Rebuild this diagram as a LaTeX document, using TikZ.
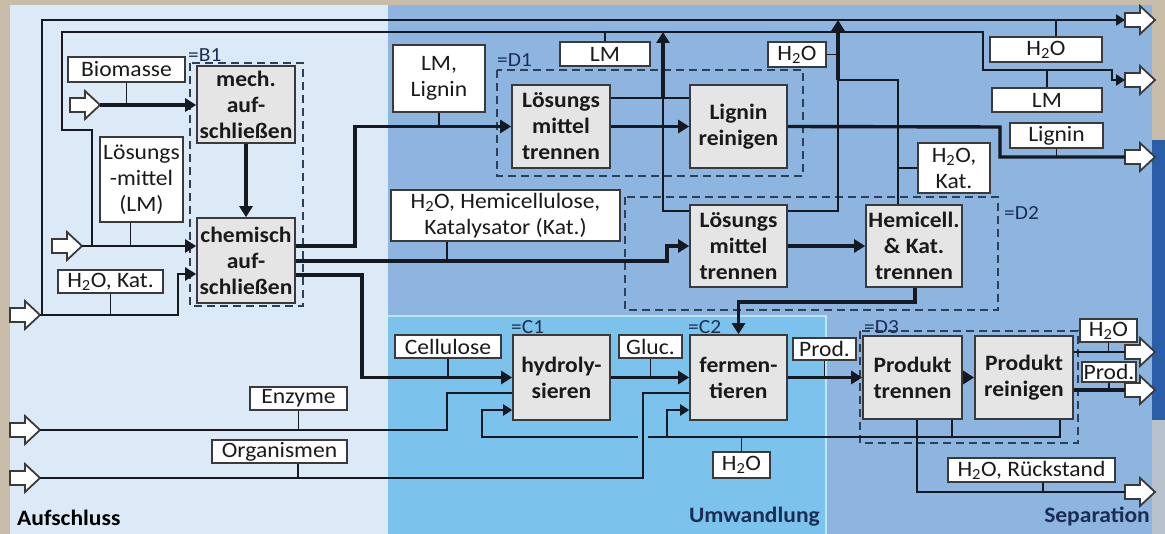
\documentclass[tikz,border=0pt]{standalone}
\usepackage{fontspec}
\setmainfont{Carlito}[FakeStretch=1.07]
\usetikzlibrary{arrows.meta,calc}
\definecolor{leftbg}{HTML}{DCE9F6}
\definecolor{midbg}{HTML}{8DB5E0}
\definecolor{convbg}{HTML}{7BC3EC}
\definecolor{convedge}{HTML}{BDE5F8}
\definecolor{framebg}{HTML}{C9BCA9}
\definecolor{procfill}{HTML}{E5E5E5}
\definecolor{boxline}{HTML}{3A3A3A}
\definecolor{flow}{HTML}{141922}
\definecolor{txt}{HTML}{1A1A1A}
\definecolor{grpline}{HTML}{2E4057}
\definecolor{navy}{HTML}{1B2D55}
\definecolor{darkstrip}{HTML}{2A5EA8}
\definecolor{graystrip}{HTML}{B8C2CC}
\newcommand\HtwoO{H\textsubscript{2}O}
\tikzset{
  proc/.style={draw=boxline, fill=procfill, line width=1.6pt, font=\fontsize{22}{26}\selectfont\bfseries, align=center, inner sep=0pt, text=txt},
  lbl/.style={draw=boxline, fill=white, line width=1.5pt, font=\fontsize{22}{26}\selectfont, align=center, inner sep=0pt, text=txt},
  mainflow/.style={line width=3.4pt, draw=flow},
  sideflow/.style={line width=2.2pt, draw=flow},
  tickline/.style={line width=1.2pt, draw=flow},
  bigtip/.style={-{Triangle[length=11pt,width=13pt]}},
  smalltip/.style={-{Triangle[length=9pt,width=11pt]}},
  grp/.style={draw=grpline, line width=1.5pt, dash pattern=on 8pt off 5pt},
  grplabel/.style={font=\fontsize{20}{24}\selectfont, text=navy, inner sep=0pt, anchor=south west},
  regionlabel/.style={font=\fontsize{22}{26}\selectfont\bfseries, inner sep=0pt},
  hollow/.pic={\draw[fill=white, draw=boxline, line width=1.8pt, line join=miter]
     (0,-7) -- (15,-7) -- (15,-14) -- (30,0) -- (15,14) -- (15,7) -- (0,7) -- cycle;}
}
\begin{document}
\begin{tikzpicture}[x=1pt,y=-1pt]
\useasboundingbox (0,0) rectangle (1165,534);
% backgrounds
\fill[framebg] (0,0) rectangle (1165,534);
\fill[leftbg] (10,5) rectangle (388,534);
\fill[midbg] (388,5) rectangle (1152,534);
\fill[darkstrip] (1152,140) rectangle (1165,420);
\fill[graystrip] (1152,420) rectangle (1165,534);
\fill[convbg] (388,316) rectangle (826,534);
\draw[convedge, line width=2pt] (388,316) -- (826,316) -- (826,534);

% group frames
\draw[grp] (190,63) rectangle (303,306);
\draw[grp] (497,70) rectangle (803,176);
\draw[grp] (625,197) rectangle (998,310);
\draw[grp] (860,331) rectangle (1078,443);
\node[grplabel] (gB1) at (188,62) {=B1};
\node[grplabel] (gD1) at (497,67) {=D1};
\node[grplabel] (gD2) at (1004,220) {=D2};
\node[grplabel] (gC1) at (511,334) {=C1};
\node[grplabel] (gC2) at (688,334) {=C2};
\node[grplabel] (gD3) at (864,334) {=D3};

% region labels
\node[regionlabel, anchor=south west, text=black] (rA) at (17,526) {Aufschluss};
\node[regionlabel, anchor=south east, text=navy] (rU) at (820,526) {Umwandlung};
\node[regionlabel, anchor=south east, text=navy] (rS) at (1150,526) {Separation};

% process boxes
\node[proc, minimum width=98pt, minimum height=77pt] (mech) at (246,104.5) {mech.\\auf-\\schließen};
\node[proc, minimum width=98pt, minimum height=85pt] (chem) at (246,260.5) {chemisch\\auf-\\schließen};
\node[proc, minimum width=98pt, minimum height=83pt] (lmt1) at (561,126.5) {Lösungs\\mittel\\trennen};
\node[proc, minimum width=97pt, minimum height=83pt] (lig) at (738.5,126.5) {Lignin\\reinigen};
\node[proc, minimum width=97pt, minimum height=82pt] (lmt2) at (738.5,246) {Lösungs\\mittel\\trennen};
\node[proc, minimum width=96pt, minimum height=82pt] (hemi) at (914,246) {Hemicell.\\\& Kat.\\trennen};
\node[proc, minimum width=97pt, minimum height=85pt] (hydro) at (561.5,377.5) {hydroly-\\sieren};
\node[proc, minimum width=97pt, minimum height=85pt] (ferm) at (738.5,377.5) {fermen-\\tieren};
\node[proc, minimum width=99pt, minimum height=83pt] (pt) at (912.5,377.5) {Produkt\\trennen};
\node[proc, minimum width=98pt, minimum height=83pt] (pr) at (1024,377.5) {Produkt\\reinigen};

% label boxes
\node[lbl, minimum width=117pt, minimum height=25pt] (biomasse) at (126.5,69.5) {Biomasse};
\node[lbl, minimum width=83pt, minimum height=85pt] (lmin) at (141.5,179.5) {Lösungs\\-mittel\\(LM)};
\node[lbl, minimum width=105pt, minimum height=23pt] (h2okat) at (110.5,281.5) {\HtwoO, Kat.};
\node[lbl, minimum width=97pt, minimum height=23pt] (enz) at (298.5,398.5) {Enzyme};
\node[lbl, minimum width=135pt, minimum height=23pt] (org) at (279.5,451.5) {Organismen};
\node[lbl, minimum width=92pt, minimum height=67pt] (lmlig) at (439,78.5) {LM,\\Lignin};
\node[lbl, minimum width=90pt, minimum height=24pt] (lmtop) at (605,54) {LM};
\node[lbl, minimum width=58pt, minimum height=25pt] (h2omid) at (797,54.5) {\HtwoO};
\node[lbl, minimum width=229pt, minimum height=51pt] (h2ohemi) at (505.5,215.5) {\HtwoO, Hemicellulose,\\Katalysator (Kat.)};
\node[lbl, minimum width=106pt, minimum height=23pt] (cell) at (448,346.5) {Cellulose};
\node[lbl, minimum width=63pt, minimum height=23pt] (gluc) at (650.5,346.5) {Gluc.};
\node[lbl, minimum width=63pt, minimum height=22pt] (prod1) at (824.5,349) {Prod.};
\node[lbl, minimum width=57pt, minimum height=26pt] (h2oferm) at (741.5,465) {\HtwoO};
\node[lbl, minimum width=112pt, minimum height=25pt] (h2otop) at (1046,49.5) {\HtwoO};
\node[lbl, minimum width=110pt, minimum height=24pt] (lmr) at (1047,100) {LM};
\node[lbl, minimum width=93pt, minimum height=25pt] (ligr) at (1056.5,135.5) {Lignin};
\node[lbl, minimum width=72pt, minimum height=50pt] (h2okat2) at (954,168) {\HtwoO,\\Kat.};
\node[lbl, minimum width=57pt, minimum height=23pt] (h2opr) at (1108.5,330.5) {\HtwoO};
\node[lbl, minimum width=54pt, minimum height=20pt] (prodpr) at (1109,372) {Prod.};
\node[lbl, minimum width=167pt, minimum height=24pt] (rueck) at (1031.5,470) {\HtwoO, Rückstand};

% input / output block arrows
\pic at (70,105) {hollow};
\pic at (52,246) {hollow};
\pic at (10,315) {hollow};
\pic at (10,430) {hollow};
\pic at (10,478) {hollow};
\pic at (1125,20) {hollow};
\pic at (1125,80) {hollow};
\pic at (1125,157) {hollow};
\pic at (1125,352) {hollow};
\pic at (1125,390) {hollow};
\pic at (1125,492) {hollow};

\coordinate (iBio) at (100,105);
\coordinate (iLM) at (82,246);
\coordinate (iH2O) at (40,315);
\coordinate (iEnz) at (40,430);
\coordinate (iOrg) at (40,478);
\coordinate (oH2O) at (1125,20);
\coordinate (oLM) at (1125,80);
\coordinate (oLig) at (1125,157);
\coordinate (oH2Ob) at (1125,352);
\coordinate (oProd) at (1125,390);
\coordinate (oRes) at (1125,492);

% Biomasse
\draw[mainflow,bigtip] (iBio) -- (mech.west |- iBio);
\draw[tickline] (biomasse.south) -- (biomasse.south |- iBio);
% LM input and LM line
\draw[sideflow,bigtip] (iLM) -- (chem.west |- iLM);
\draw[tickline] ([xshift=-11pt]lmin.south) -- ([xshift=-11pt]lmin.south |- iLM);
\coordinate (jLM) at (92,246);
\coordinate (lmA) at (62,130);
\coordinate (lmB) at (983,32);
\coordinate (lmC) at (1112,70);
\draw[sideflow,smalltip] (jLM) |- (lmA) |- (lmB) |- (lmC) |- (oLM);
\draw[tickline] (lmr.north) -- (lmr.north |- lmC);
% H2O, Kat. input and H2O line
\coordinate (hk) at (178,274);
\draw[sideflow,bigtip] (iH2O) -| (hk) -- (hk -| chem.west);
\coordinate (jH2O) at (42,315);
\draw[sideflow,smalltip] (jH2O) |- (oH2O);
\draw[tickline] (h2okat.south) -- (h2okat.south |- iH2O);
\draw[tickline] ([xshift=10pt]h2otop.north) -- ([xshift=10pt]h2otop.north |- oH2O);
% Enzyme
\coordinate (eB) at (447,393);
\draw[sideflow] (iEnz) -| (eB) -- (eB -| hydro.west);
\draw[tickline] (enz.south) -- (enz.south |- iEnz);
% Organismen
\coordinate (oB) at (643,393);
\draw[sideflow] (iOrg) -| (oB) -- (oB -| ferm.west);
\draw[tickline] ([xshift=18.5pt]org.south) -- ([xshift=18.5pt]org.south |- iOrg);
% mech -> chem
\draw[mainflow,bigtip] (mech) -- (chem);
% chem outputs
\coordinate (c1) at (355,246);
\coordinate (c2) at (667,261);
\coordinate (c3) at (362,275);
\draw[mainflow,bigtip] (c1 -| chem.east) -- (c1) |- (lmt1.west);
\draw[mainflow,bigtip] (c2 -| chem.east) -- (c2) |- (lmt2.west);
\draw[mainflow,bigtip] (c3 -| chem.east) -- (c3) |- (hydro.west);
\draw[tickline] (lmlig.south) -- (lmlig.south |- lmt1.west);
\draw[tickline] ([xshift=-58.5pt]h2ohemi.south) -- ([xshift=-58.5pt]h2ohemi.south |- c2);
\draw[tickline] (cell.south) -- (cell.south |- hydro.west);
% main chain
\draw[mainflow,bigtip] (lmt1) -- (lig);
\draw[mainflow,bigtip] (lmt2) -- (hemi);
\draw[mainflow,bigtip] (hydro) -- (ferm);
\draw[mainflow,bigtip] (ferm) -- (pt);
\draw[mainflow,bigtip] (pt) -- (pr);
\draw[tickline] (gluc.south) -- (gluc.south |- hydro.east);
\draw[tickline] (prod1.south) -- (prod1.south |- ferm.east);
% LM recovery from separation
\coordinate (v1) at (663,98);
\coordinate (v1b) at (663,211);
\coordinate (v1t) at (663,32);
\draw[sideflow] (v1 -| lmt1.east) -- (v1 -| lig.west);
\draw[sideflow] (v1b -| lmt2.west) -- (v1b) -- (v1);
\draw[mainflow,bigtip] (v1) -- (v1t);
\draw[tickline] (lmtop.north) -- (lmtop.north |- v1t);
% H2O recovery
\coordinate (v2b) at (838,211);
\coordinate (v2) at (838,80);
\coordinate (v2t) at (838,20);
\coordinate (h1) at (898,80);
\draw[sideflow] (v2b -| lmt2.east) -- (v2b) -- (v2);
\draw[sideflow] (h1 |- hemi.north) -- (h1) -- (v2);
\draw[mainflow,bigtip] (v2) -- (v2t);
\draw[tickline] (h2okat2.west) -- (h2okat2.west -| h1);
\draw[tickline] (h2omid.east) -- (h2omid.east -| v2);
% hemi -> ferm
\coordinate (hf) at (915,302);
\draw[mainflow,bigtip] (hf |- hemi.south) -- (hf) -| (ferm.north);
% Lignin output
\coordinate (lo) at (1000,127);
\draw[mainflow] (lig.east) -- (lo) |- (oLig);
\draw[tickline] (ligr.south) -- (ligr.south |- oLig);
% product outputs
\draw[sideflow] (oH2Ob -| pr.east) -- (oH2Ob);
\draw[mainflow] (oProd -| pr.east) -- (oProd);
\draw[tickline] (h2opr.south) -- (h2opr.south |- oH2Ob);
\draw[tickline] (prodpr.south) -- (prodpr.south |- oProd);
% residue
\coordinate (rs) at (917,420);
\draw[sideflow] (rs |- pt.south) |- (oRes);
\draw[tickline] ([xshift=11.5pt]rueck.south) -- ([xshift=11.5pt]rueck.south |- oRes);
% water recycle
\coordinate (w1) at (1060,437);
\coordinate (w2) at (952,437);
\coordinate (wg1) at (648,437);
\coordinate (wg2) at (638,437);
\coordinate (w3) at (482,410);
\coordinate (w4) at (667,437);
\coordinate (w4b) at (667,410);
\draw[sideflow] (w1 |- pr.south) -- (w1) -- (wg1);
\draw[sideflow] (w2 |- pt.south) -- (w2);
\draw[sideflow,smalltip] (wg2) -| (w3) -- (w3 -| hydro.west);
\draw[sideflow,smalltip] (w4) -- (w4b) -- (w4b -| ferm.west);
\draw[tickline] (h2oferm.north) -- (h2oferm.north |- w1);
\end{tikzpicture}
\end{document}
